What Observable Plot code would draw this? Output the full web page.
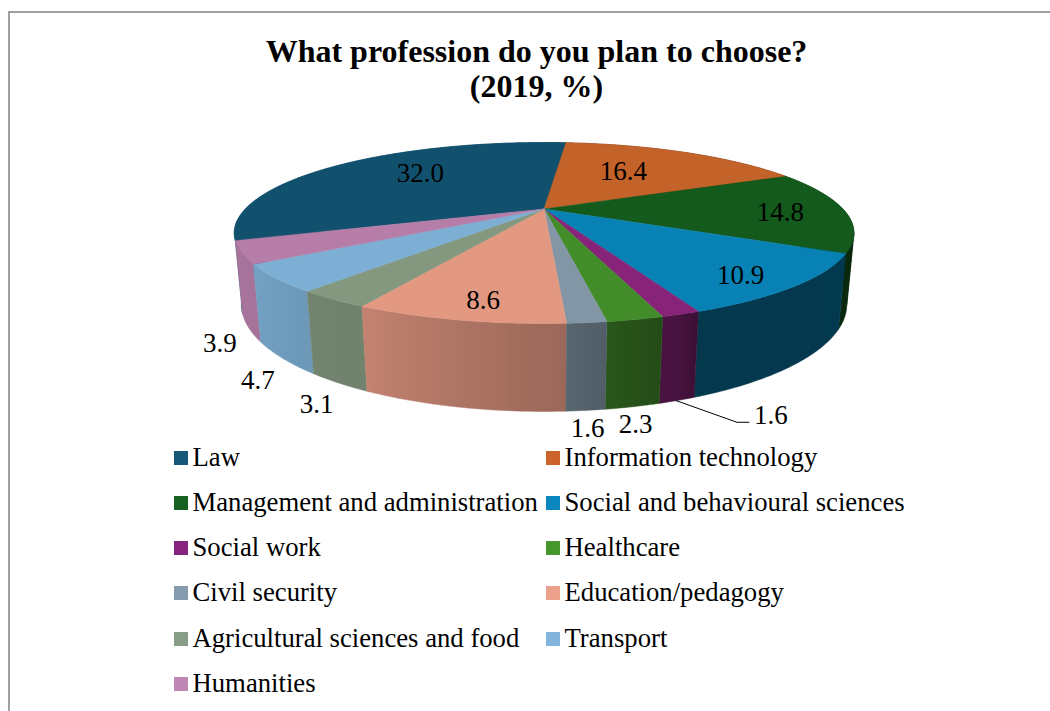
<!DOCTYPE html>
<html>
<head>
<meta charset="utf-8">
<script src="https://cdn.jsdelivr.net/npm/d3@7"></script>
<script src="https://cdn.jsdelivr.net/npm/@observablehq/plot@0.6"></script>
<style>
  html, body { margin: 0; padding: 0; background: #fff; }
  #page { position: relative; width: 1050px; height: 711px; overflow: hidden; font-family: "Liberation Serif", serif; color: #000; }
  #frame { position: absolute; left: 8px; top: 11px; right: -5px; bottom: -5px; border-left: 2px solid #a0a0a0; border-top: 2px solid #a0a0a0; }
  #title { position: absolute; left: 0; top: 34px; width: 1073px; text-align: center; font-weight: bold; font-size: 32px; line-height: 35px; height: 76px; }
  #chart { position: absolute; left: 0; top: 110px; }
  #legend { position: absolute; left: 0; top: 434.5px; font-size: 26.7px; }
  .item { position: absolute; white-space: nowrap; height: 45.33px; line-height: 45.33px; }
  .swatch { position: absolute; left: 0; top: 16px; width: 14px; height: 14px; }
  .label { position: absolute; left: 18.5px; top: 0; }
</style>
</head>
<body>
<div id="page">
  <div id="frame"></div>
  <div id="title">What profession do you plan to choose?<br>(2019, %)</div>
  <div id="chart"></div>
  <div id="legend"></div>
</div>
<script>
const categories = ["Law", "Information technology", "Management and administration", "Social and behavioural sciences", "Social work", "Healthcare", "Civil security", "Education/pedagogy", "Agricultural sciences and food", "Transport", "Humanities"];
const values = [32.0, 16.4, 14.8, 10.9, 1.6, 2.3, 1.6, 8.6, 3.1, 4.7, 3.9];
const valueLabels = ["32.0", "16.4", "14.8", "10.9", "1.6", "2.3", "1.6", "8.6", "3.1", "4.7", "3.9"];
const colors = ["#12516e", "#c36229", "#155a1d", "#0882b4", "#872378", "#428c2a", "#8296a5", "#e39882", "#83987f", "#7dafd4", "#b57da8"];
const legendColors = ["#175878", "#cd642d", "#196023", "#0a87be", "#87237d", "#46962d", "#879baf", "#eba08c", "#879d87", "#82b4dc", "#be87b4"];

// label placement relative to the slice's rim midpoint, in pixels
const labelOnTop = [true, true, true, true, false, false, false, true, false, false, false];
const labelShiftX = [80, -61, -64, -55, 94, 3, 2, 25, -22, -25, -29];
const labelShiftY = [9, 19, 2, -11, 15, 18, 18, -20, 21, 22, 15];

// side shading by angle around the pie (degrees clockwise from the far point)
const shadeAngles = [100, 157, 160, 167, 174, 177, 208, 219, 236, 250, 360];
const shadeLevels = [0.44, 0.43, 0.52, 0.58, 0.65, 0.68, 0.86, 0.87, 0.92, 0.93, 0.93];

// perspective of the tilted disc
const lastSliceEnd = 5.3, persp = -0.2652, depthW = 0.022, depthY = 0.821;
const cx = 543.6, cy = 208.5 - 110, kx = 298.8, ky = 84.13;
const svgWidth = 1050, svgHeight = 330;

const toRad = Math.PI / 180;
const project = (deg, h) => {
  const u = Math.sin(deg * toRad), v = -Math.cos(deg * toRad);
  const w = 1 + persp * v + depthW * h;
  return {px: u / w, py: (v + depthY * h) / w};
};
const total = d3.sum(values);
let acc = lastSliceEnd - values[0] / total * 360;
const slices = values.map((value, i) => {
  const a0 = acc;
  acc += value / total * 360;
  return {i, name: categories[i], a0, a1: acc, mid: (a0 + acc) / 2};
});

const shade = d3.scaleLinear().domain(shadeAngles).range(shadeLevels).clamp(true);
const norm = d => ((d % 360) + 360) % 360;
const darken = (col, s) => {
  const c = d3.rgb(col);
  return d3.rgb(c.r * s, c.g * s, c.b * s).formatHex();
};
const steps = (a0, a1, n) => d3.range(n + 1).map(k => a0 + (a1 - a0) * k / n);

// side walls, far ones first; a wall is cut where the rim turns at the silhouette
const turn = Math.acos(persp) / toRad;
const cuts = [turn, 360 - turn];
const wallParts = slices.flatMap(s => {
  const inner = cuts.filter(c => c > s.a0 && c < s.a1);
  const edges = [s.a0, ...inner, s.a1];
  return d3.pairs(edges).map(([a, b], k) => ({s, a, b, k}));
});
const order = d3.sort(wallParts, p => -Math.cos((p.a + p.b) / 2 * toRad));
const sidePts = order.flatMap(({s, a, b, k}) => {
  const ang = steps(a, b, Math.ceil(b - a) * 2);
  const url = `url(#side${s.i})`;
  return [...ang.map(d => project(d, 0)), ...ang.slice().reverse().map(d => project(d, 1)), project(a, 0)]
    .map(p => ({...p, id: `${s.i}-${k}`, paint: url}));
});

// top faces
const topPts = slices.flatMap(s => {
  const ang = steps(s.a0, s.a1, Math.ceil(s.a1 - s.a0) * 2);
  const apex = {px: 0, py: 0};
  return [apex, ...ang.map(d => project(d, 0)), apex].map(p => ({...p, id: s.i, paint: colors[s.i]}));
});

// labels
const labelRows = slices.map(s => {
  const p = project(s.mid, labelOnTop[s.i] ? 0 : 1);
  return {text: valueLabels[s.i], px: p.px + labelShiftX[s.i] / kx, py: p.py + labelShiftY[s.i] / ky};
});

// leader of the Social work label
const sw = project(slices[4].mid, 1);
const leaderShift = [[-1, 0], [60, 21.7], [72, 21.7]];
const leader = leaderShift.map(([dx, dy]) => ({px: sw.px + dx / kx, py: sw.py + dy / ky}));

const faceOpts = {
  x: "px", y: "py", z: "id",
  fill: {value: d => d.paint, scale: null},
  stroke: {value: d => d.paint, scale: null},
  strokeWidth: 0.5
};

const chart = Plot.plot({
  width: svgWidth, height: svgHeight,
  margin: 0,
  x: {domain: [-1, 1], range: [cx - kx, cx + kx], axis: null},
  y: {domain: [-1, 1], range: [cy - ky, cy + ky], axis: null},
  style: {background: "transparent", overflow: "visible"},
  marks: [
    Plot.line(sidePts, faceOpts),
    Plot.line(topPts, faceOpts),
    Plot.line(leader, {x: "px", y: "py", stroke: "#000", strokeWidth: 1}),
    Plot.text(labelRows, {x: "px", y: "py", text: "text", fontFamily: "Liberation Serif", fontSize: 27, fill: "#000"})
  ]
});

// horizontal shading of each side wall, following the rim
const xScale = chart.scale("x");
const xPixel = xScale.apply;
const defs = d3.select(chart).insert("defs", ":first-child");
slices.forEach(s => {
  const ang = steps(s.a0, s.a1, Math.ceil(s.a1 - s.a0) + 1);
  const xs = ang.map(d => project(d, 0).px);
  const lo = d3.min(xs), hi = d3.max(xs);
  const stops = ang.map((d, k) => ({off: (xs[k] - lo) / (hi - lo), col: darken(colors[s.i], shade(norm(d)))}));
  const g = defs.append("linearGradient").attr("id", `side${s.i}`)
    .attr("gradientUnits", "userSpaceOnUse")
    .attr("x1", xPixel(lo)).attr("x2", xPixel(hi)).attr("y1", 0).attr("y2", 0);
  d3.sort(stops, t => t.off).forEach(t => g.append("stop").attr("offset", t.off).attr("stop-color", t.col));
});
document.getElementById("chart").appendChild(chart);

// legend, two columns filled row by row
const legend = d3.select("#legend");
categories.forEach((name, i) => {
  const row = Math.floor(i / 2), col = i % 2;
  const item = legend.append("div").attr("class", "item")
    .style("left", (col ? 546 : 174) + "px")
    .style("top", row * 45.33 + "px");
  item.append("span").attr("class", "swatch").style("background", legendColors[i]);
  item.append("span").attr("class", "label").text(name);
});
</script>
</body>
</html>
